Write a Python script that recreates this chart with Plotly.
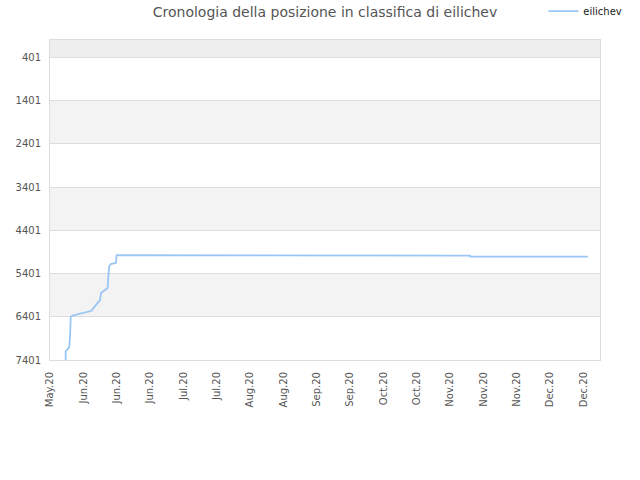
import plotly.graph_objects as go

# Data
dates = [
    "2020-05-24 14:00", "2020-05-24 14:00", "2020-05-25 00:00", "2020-05-25 20:00",
    "2020-05-26 02:00", "2020-05-26 10:00", "2020-05-26 17:00", "2020-05-27 19:00",
    "2020-05-29 22:00", "2020-06-04 12:00", "2020-06-05 05:00", "2020-06-08 00:00",
    "2020-06-08 10:00", "2020-06-11 05:00", "2020-06-11 12:00", "2020-06-11 22:00",
    "2020-06-12 14:00", "2020-06-14 17:00", "2020-06-15 00:00", "2020-08-03 05:00",
    "2020-08-03 05:00", "2020-11-10 10:00", "2020-11-10 10:00", "2020-12-30 00:00",
]
ranks = [
    7401, 7194, 7171, 7125,
    7102, 6870, 6401, 6369,
    6339, 6262, 6200, 6015,
    5853, 5737, 5460, 5228,
    5182, 5152, 4974, 4974,
    4989, 4989, 5012, 5012,
]
y_ticks = [401, 1401, 2401, 3401, 4401, 5401, 6401, 7401]
band_edges = [(1, 401, "#eeeeee"), (1401, 2401, "#f3f3f3"),
              (3401, 4401, "#f3f3f3"), (5401, 6401, "#f3f3f3")]
series_name = "eilichev"
title = "Cronologia della posizione in classifica di eilichev"

fig = go.Figure()
fig.add_trace(go.Scatter(
    x=dates, y=ranks, mode="lines", name=series_name,
    line=dict(color="#9ac6f4", width=1.8),
))

for y0, y1, col in band_edges:
    fig.add_shape(type="rect", xref="paper", yref="y", x0=0, x1=1, y0=y0, y1=y1,
                  fillcolor=col, line=dict(width=0), layer="below")

fig.update_layout(
    width=640, height=480,
    margin=dict(l=50, r=40, t=40, b=120, autoexpand=False),
    paper_bgcolor="white", plot_bgcolor="white",
    font=dict(family="DejaVu Sans", size=10, color="#555555"),
    title=dict(text=title, x=0.50, xanchor="center", xref="paper",
               y=0.975, yanchor="middle", yref="container",
               font=dict(size=14, color="#555555")),
    showlegend=True,
    legend=dict(x=0.897, y=1.09, xanchor="left", yanchor="middle",
                font=dict(size=10, color="#222222"), bgcolor="rgba(0,0,0,0)"),
    xaxis=dict(
        type="date", automargin=False,
        range=["2020-05-18", "2021-01-04"],
        tick0="2020-05-18", dtick=14 * 86400000,
        tickformat="%b.%y", tickangle=-90, ticklabelstandoff=7,
        showgrid=False, showline=True, linecolor="#dddddd", mirror=True,
        ticks="", tickfont=dict(size=10, color="#555555"), zeroline=False,
    ),
    yaxis=dict(
        automargin=False,
        range=[7401, 1], tickvals=y_ticks, ticktext=[str(v) for v in y_ticks],
        ticklabelstandoff=6,
        showgrid=True, gridcolor="#dddddd", gridwidth=1,
        showline=True, linecolor="#dddddd", mirror=True,
        ticks="", tickfont=dict(size=10, color="#555555"), zeroline=False,
    ),
)

fig.write_html("out.html", config={"displayModeBar": False},
               post_script="document.body.style.margin='0';")
